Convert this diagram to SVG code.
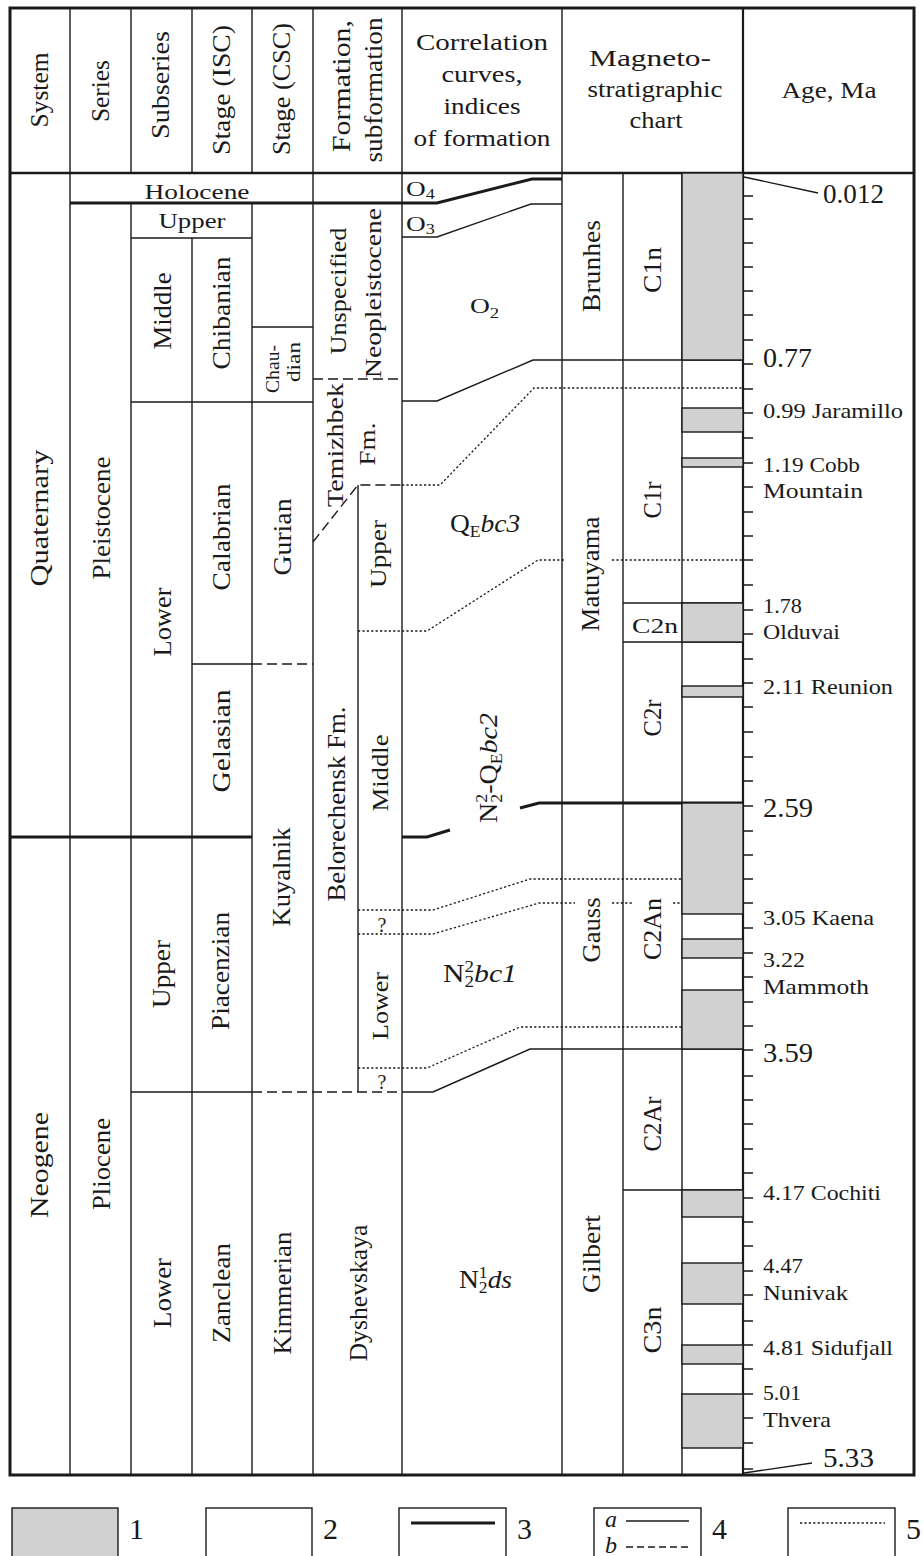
<svg xmlns="http://www.w3.org/2000/svg" width="923" height="1556" viewBox="0 0 923 1556">
<style>
.ln{stroke:#1a1a1a;stroke-width:1.4;fill:none}
.thk{stroke:#1a1a1a;stroke-width:3;fill:none}
.dash{stroke:#1a1a1a;stroke-width:1.4;fill:none;stroke-dasharray:10 5}
.dot{stroke:#1a1a1a;stroke-width:1.3;fill:none;stroke-dasharray:2.2 2.2}
.gray{fill:#d0d1d0;stroke:#1a1a1a;stroke-width:1.4}
text{font-family:"Liberation Serif","Times New Roman",serif;fill:#1a1a1a}
.hh{font-size:23px;text-anchor:middle}
.rh{font-size:25px;text-anchor:middle}
.rb{font-size:26px;text-anchor:middle}
.rn{font-size:24px;text-anchor:middle}
.hb{font-size:22px;text-anchor:middle}
.as{font-size:22px}
.al{font-size:27px}
.it{font-style:italic}
</style>
<rect x="0" y="0" width="923" height="1556" fill="#ffffff"/>

<g id="grid">
<path class="ln" d="M70 8V1475 M131 8V173 M131 203V1475 M192 8V173 M192 238V1475 M252 8V173 M252 203V1475 M313 8V1475 M402 8V1475 M562 8V1475 M623 173V1475 M682 173V1475 M358 485V1092 M131 238H252 M252 327H313 M131 402H313 M192 664H252 M131 1092H252 M623 603H743 M623 642H743 M623 1190H743"/>
<path class="dash" d="M313 379H402 M313 542L358 485H402 M252 664H313 M252 1092H402"/>
<path class="thk" d="M10 837H252"/>
<path stroke="#1a1a1a" stroke-width="2.2" fill="none" d="M743 8V1475"/>
<path stroke="#1a1a1a" stroke-width="2.6" fill="none" d="M10 173H914"/>
<rect x="10" y="8" width="904" height="1467" fill="none" stroke="#1a1a1a" stroke-width="3"/>
</g>

<g id="header">
<text class="rh" transform="translate(47.5,90) rotate(-90)" textLength="75" lengthAdjust="spacingAndGlyphs">System</text>
<text class="rh" transform="translate(108.5,91) rotate(-90)" textLength="62" lengthAdjust="spacingAndGlyphs">Series</text>
<text class="rh" transform="translate(169,85) rotate(-90)" textLength="108" lengthAdjust="spacingAndGlyphs">Subseries</text>
<text class="rh" transform="translate(230,90) rotate(-90)" textLength="130" lengthAdjust="spacingAndGlyphs">Stage (ISC)</text>
<text class="rh" transform="translate(290,89) rotate(-90)" textLength="132" lengthAdjust="spacingAndGlyphs">Stage (CSC)</text>
<text class="rh" transform="translate(350,86) rotate(-90)" textLength="132" lengthAdjust="spacingAndGlyphs">Formation,</text>
<text class="rh" transform="translate(382,90) rotate(-90)" textLength="145" lengthAdjust="spacingAndGlyphs">subformation</text>
<text class="hh" x="482" y="50" textLength="132" lengthAdjust="spacingAndGlyphs">Correlation</text>
<text class="hh" x="482" y="82" textLength="81" lengthAdjust="spacingAndGlyphs">curves,</text>
<text class="hh" x="482" y="114" textLength="77" lengthAdjust="spacingAndGlyphs">indices</text>
<text class="hh" x="482" y="146" textLength="137" lengthAdjust="spacingAndGlyphs">of formation</text>
<text class="hh" x="650" y="66" textLength="122" lengthAdjust="spacingAndGlyphs">Magneto-</text>
<text class="hh" x="655" y="97" textLength="135" lengthAdjust="spacingAndGlyphs">stratigraphic</text>
<text class="hh" x="656" y="128" textLength="53" lengthAdjust="spacingAndGlyphs">chart</text>
<text class="hh" x="829" y="98" textLength="95" lengthAdjust="spacingAndGlyphs">Age, Ma</text>
</g>

<g id="system">
<text class="rb" transform="translate(48,518) rotate(-90)" textLength="137" lengthAdjust="spacingAndGlyphs">Quaternary</text>
<text class="rb" transform="translate(48,1165) rotate(-90)" textLength="106" lengthAdjust="spacingAndGlyphs">Neogene</text>
</g>
<g id="series">
<text class="hb" x="197" y="199" textLength="105" lengthAdjust="spacingAndGlyphs">Holocene</text>
<text class="rb" transform="translate(110,518) rotate(-90)" textLength="123" lengthAdjust="spacingAndGlyphs">Pleistocene</text>
<text class="rb" transform="translate(110,1164) rotate(-90)" textLength="92" lengthAdjust="spacingAndGlyphs">Pliocene</text>
</g>
<g id="subseries">
<text class="hb" x="192" y="228" textLength="67" lengthAdjust="spacingAndGlyphs">Upper</text>
<text class="rb" transform="translate(171,311) rotate(-90)" textLength="77" lengthAdjust="spacingAndGlyphs">Middle</text>
<text class="rb" transform="translate(171,622) rotate(-90)" textLength="69" lengthAdjust="spacingAndGlyphs">Lower</text>
<text class="rb" transform="translate(170,974) rotate(-90)" textLength="68" lengthAdjust="spacingAndGlyphs">Upper</text>
<text class="rb" transform="translate(171,1293) rotate(-90)" textLength="70" lengthAdjust="spacingAndGlyphs">Lower</text>
</g>
<g id="stage-isc">
<text class="rb" transform="translate(230,313) rotate(-90)" textLength="113" lengthAdjust="spacingAndGlyphs">Chibanian</text>
<text class="rb" transform="translate(230,537) rotate(-90)" textLength="107" lengthAdjust="spacingAndGlyphs">Calabrian</text>
<text class="rb" transform="translate(230,741) rotate(-90)" textLength="103" lengthAdjust="spacingAndGlyphs">Gelasian</text>
<text class="rb" transform="translate(229,971) rotate(-90)" textLength="118" lengthAdjust="spacingAndGlyphs">Piacenzian</text>
<text class="rb" transform="translate(230,1293) rotate(-90)" textLength="100" lengthAdjust="spacingAndGlyphs">Zanclean</text>
</g>
<g id="stage-csc">
<text font-size="19" text-anchor="middle" transform="translate(279,369) rotate(-90)" textLength="48" lengthAdjust="spacingAndGlyphs">Chau-</text>
<text font-size="19" text-anchor="middle" transform="translate(300,362) rotate(-90)" textLength="40" lengthAdjust="spacingAndGlyphs">dian</text>
<text class="rb" transform="translate(291,537) rotate(-90)" textLength="77" lengthAdjust="spacingAndGlyphs">Gurian</text>
<text class="rb" transform="translate(290,877) rotate(-90)" textLength="99" lengthAdjust="spacingAndGlyphs">Kuyalnik</text>
<text class="rb" transform="translate(291,1293) rotate(-90)" textLength="123" lengthAdjust="spacingAndGlyphs">Kimmerian</text>
</g>
<g id="formation">
<text class="rn" transform="translate(346,291) rotate(-90)" textLength="127" lengthAdjust="spacingAndGlyphs">Unspecified</text>
<text class="rn" transform="translate(381,293) rotate(-90)" textLength="170" lengthAdjust="spacingAndGlyphs">Neopleistocene</text>
<text class="rn" transform="translate(343,445) rotate(-90)" textLength="124" lengthAdjust="spacingAndGlyphs">Temizhbek</text>
<text class="rn" transform="translate(375,444) rotate(-90)" textLength="43" lengthAdjust="spacingAndGlyphs">Fm.</text>
<text class="rb" transform="translate(345,804) rotate(-90)" textLength="195" lengthAdjust="spacingAndGlyphs">Belorechensk Fm.</text>
<text class="rn" transform="translate(386,554) rotate(-90)" textLength="68" lengthAdjust="spacingAndGlyphs">Upper</text>
<text class="rn" transform="translate(388,773) rotate(-90)" textLength="77" lengthAdjust="spacingAndGlyphs">Middle</text>
<text class="rn" transform="translate(388,1006) rotate(-90)" textLength="68" lengthAdjust="spacingAndGlyphs">Lower</text>
<text font-size="20" text-anchor="middle" x="382" y="932">?</text>
<text font-size="20" text-anchor="middle" x="382" y="1089">?</text>
<text class="rb" transform="translate(367,1293) rotate(-90)" textLength="137" lengthAdjust="spacingAndGlyphs">Dyshevskaya</text>
</g>

<g id="correlation-indices">
<text font-size="21" transform="translate(406,196) scale(1.3,1)">O<tspan font-size="14" dy="3">4</tspan></text>
<text font-size="21" transform="translate(406,231) scale(1.3,1)">O<tspan font-size="14" dy="3">3</tspan></text>
<text font-size="22" transform="translate(470,313) scale(1.25,1)">O<tspan font-size="15" dy="5">2</tspan></text>
<text font-size="25" transform="translate(450,532) scale(1.1,1)">Q<tspan font-size="16" dy="5">E</tspan><tspan dy="-5" class="it">bc3</tspan></text>
<text font-size="25" text-anchor="middle" transform="translate(497,768) rotate(-90) scale(1.12,1)">N<tspan font-size="16" dy="-10">2</tspan><tspan font-size="16" dx="-8" dy="15">2</tspan><tspan dy="-5">-Q</tspan><tspan font-size="16" dy="5">E</tspan><tspan dy="-5" class="it">bc2</tspan></text>
<text font-size="25" transform="translate(443,982) scale(1.19,1)">N<tspan font-size="16" dy="-10">2</tspan><tspan font-size="16" dx="-8" dy="15">2</tspan><tspan dy="-5" class="it">bc1</tspan></text>
<text font-size="25" transform="translate(459,1288) scale(1.1,1)">N<tspan font-size="16" dy="-10">1</tspan><tspan font-size="16" dx="-8" dy="15">2</tspan><tspan dy="-5" class="it">ds</tspan></text>
</g>

<g id="connectors">
<path class="thk" d="M70 203H437L532 179H562"/>
<path class="ln" d="M402 237H437L531 204H562"/>
<path class="ln" d="M402 401H437L533 360H743"/>
<path class="dot" d="M402 485H440L534 388H743"/>
<path class="dot" d="M358 631H427L538 560H566 M612 560H743"/>
<path class="thk" d="M402 837H427L450 830 M520 808L539 803H743"/>
<path class="dot" d="M358 910H433L530 879H743"/>
<path class="dot" d="M358 934H433L539 903H575 M612 903H633 M673 903H743"/>
<path class="dot" d="M358 1068H427L520 1027H743"/>
<path class="ln" d="M402 1092H433L530 1049H743"/>
</g>

<g id="magneto">
<text class="rb" transform="translate(600,266) rotate(-90)" textLength="92" lengthAdjust="spacingAndGlyphs">Brunhes</text>
<text class="rb" transform="translate(599,574) rotate(-90)" textLength="115" lengthAdjust="spacingAndGlyphs">Matuyama</text>
<text class="rb" transform="translate(600,930) rotate(-90)" textLength="65" lengthAdjust="spacingAndGlyphs">Gauss</text>
<text class="rb" transform="translate(600,1254) rotate(-90)" textLength="78" lengthAdjust="spacingAndGlyphs">Gilbert</text>
<text class="rb" transform="translate(661,270) rotate(-90)" textLength="46" lengthAdjust="spacingAndGlyphs">C1n</text>
<text class="rb" transform="translate(661,500) rotate(-90)" textLength="37" lengthAdjust="spacingAndGlyphs">C1r</text>
<text font-size="22" text-anchor="middle" x="655" y="633" textLength="46" lengthAdjust="spacingAndGlyphs">C2n</text>
<text class="rb" transform="translate(661,718) rotate(-90)" textLength="37" lengthAdjust="spacingAndGlyphs">C2r</text>
<text class="rb" transform="translate(661,929) rotate(-90)" textLength="62" lengthAdjust="spacingAndGlyphs">C2An</text>
<text class="rb" transform="translate(661,1124) rotate(-90)" textLength="55" lengthAdjust="spacingAndGlyphs">C2Ar</text>
<text class="rb" transform="translate(661,1330) rotate(-90)" textLength="47" lengthAdjust="spacingAndGlyphs">C3n</text>
</g>

<g id="polarity">
<rect class="gray" x="682" y="173" width="61" height="187"/>
<rect class="gray" x="682" y="408" width="61" height="24"/>
<rect class="gray" x="682" y="458" width="61" height="9"/>
<rect class="gray" x="682" y="603" width="61" height="39"/>
<rect class="gray" x="682" y="686" width="61" height="11"/>
<rect class="gray" x="682" y="803" width="61" height="111"/>
<rect class="gray" x="682" y="939" width="61" height="19"/>
<rect class="gray" x="682" y="990" width="61" height="59"/>
<rect class="gray" x="682" y="1190" width="61" height="27"/>
<rect class="gray" x="682" y="1263" width="61" height="41"/>
<rect class="gray" x="682" y="1345" width="61" height="19"/>
<rect class="gray" x="682" y="1394" width="61" height="54"/>
</g>

<g id="age-axis">
<path class="ln" d="M743 196h10M743 219h10M743 243h10M743 267h10M743 291h10M743 315h10M743 340h10M743 364h10M743 389h10M743 413h10M743 438h10M743 463h10M743 487h10M743 512h10M743 536h10M743 560h10M743 585h10M743 610h10M743 634h10M743 659h10M743 683h10M743 707h10M743 732h10M743 757h10M743 781h10M743 806h10M743 831h10M743 855h10M743 879h10M743 903h10M743 928h10M743 953h10M743 977h10M743 1002h10M743 1026h10M743 1050h10M743 1076h10M743 1100h10M743 1124h10M743 1149h10M743 1173h10M743 1198h10M743 1222h10M743 1246h10M743 1271h10M743 1295h10M743 1321h10M743 1345h10M743 1369h10M743 1394h10M743 1418h10M743 1443h10M743 1469h10"/>
<path class="ln" d="M744 177L818 193 M744 1473L812 1463"/>
<text class="al" x="823" y="203" textLength="61" lengthAdjust="spacingAndGlyphs">0.012</text>
<text class="al" x="763" y="367" textLength="49" lengthAdjust="spacingAndGlyphs">0.77</text>
<text class="as" x="763" y="418" textLength="140" lengthAdjust="spacingAndGlyphs">0.99 Jaramillo</text>
<text class="as" x="763" y="472" textLength="97" lengthAdjust="spacingAndGlyphs">1.19 Cobb</text>
<text class="as" x="763" y="498" textLength="100" lengthAdjust="spacingAndGlyphs">Mountain</text>
<text class="as" x="763" y="613" textLength="39" lengthAdjust="spacingAndGlyphs">1.78</text>
<text class="as" x="763" y="639" textLength="77" lengthAdjust="spacingAndGlyphs">Olduvai</text>
<text class="as" x="763" y="694" textLength="130" lengthAdjust="spacingAndGlyphs">2.11 Reunion</text>
<text class="al" x="763" y="817" textLength="50" lengthAdjust="spacingAndGlyphs">2.59</text>
<text class="as" x="763" y="925" textLength="111" lengthAdjust="spacingAndGlyphs">3.05 Kaena</text>
<text class="as" x="763" y="967" textLength="42" lengthAdjust="spacingAndGlyphs">3.22</text>
<text class="as" x="763" y="994" textLength="106" lengthAdjust="spacingAndGlyphs">Mammoth</text>
<text class="al" x="763" y="1062" textLength="50" lengthAdjust="spacingAndGlyphs">3.59</text>
<text class="as" x="763" y="1200" textLength="118" lengthAdjust="spacingAndGlyphs">4.17 Cochiti</text>
<text class="as" x="763" y="1273" textLength="40" lengthAdjust="spacingAndGlyphs">4.47</text>
<text class="as" x="763" y="1300" textLength="85" lengthAdjust="spacingAndGlyphs">Nunivak</text>
<text class="as" x="763" y="1355" textLength="130" lengthAdjust="spacingAndGlyphs">4.81 Sidufjall</text>
<text class="as" x="763" y="1400" textLength="38" lengthAdjust="spacingAndGlyphs">5.01</text>
<text class="as" x="763" y="1427" textLength="68" lengthAdjust="spacingAndGlyphs">Thvera</text>
<text class="al" x="823" y="1467" textLength="51" lengthAdjust="spacingAndGlyphs">5.33</text>
</g>

<g id="legend">
<g id="legend-1"><rect class="gray" x="12" y="1508" width="106" height="60"/><text font-size="30" x="129" y="1539">1</text></g>
<g id="legend-2"><rect class="ln" x="206" y="1508" width="106" height="60"/><text font-size="30" x="323" y="1539">2</text></g>
<g id="legend-3"><rect class="ln" x="399" y="1508" width="107" height="60"/><path class="thk" d="M411 1523H495"/><text font-size="30" x="517" y="1539">3</text></g>
<g id="legend-4"><rect class="ln" x="594" y="1508" width="107" height="60"/><text font-size="24" class="it" x="605" y="1527">a</text><path class="ln" d="M626 1521H689"/><text font-size="24" class="it" x="605" y="1553">b</text><path stroke="#1a1a1a" stroke-width="1.4" stroke-dasharray="7 4" d="M626 1547H689"/><text font-size="30" x="712" y="1539">4</text></g>
<g id="legend-5"><rect class="ln" x="788" y="1508" width="107" height="60"/><path class="dot" d="M800 1523H885"/><text font-size="30" x="906" y="1539">5</text></g>
</g>
</svg>
